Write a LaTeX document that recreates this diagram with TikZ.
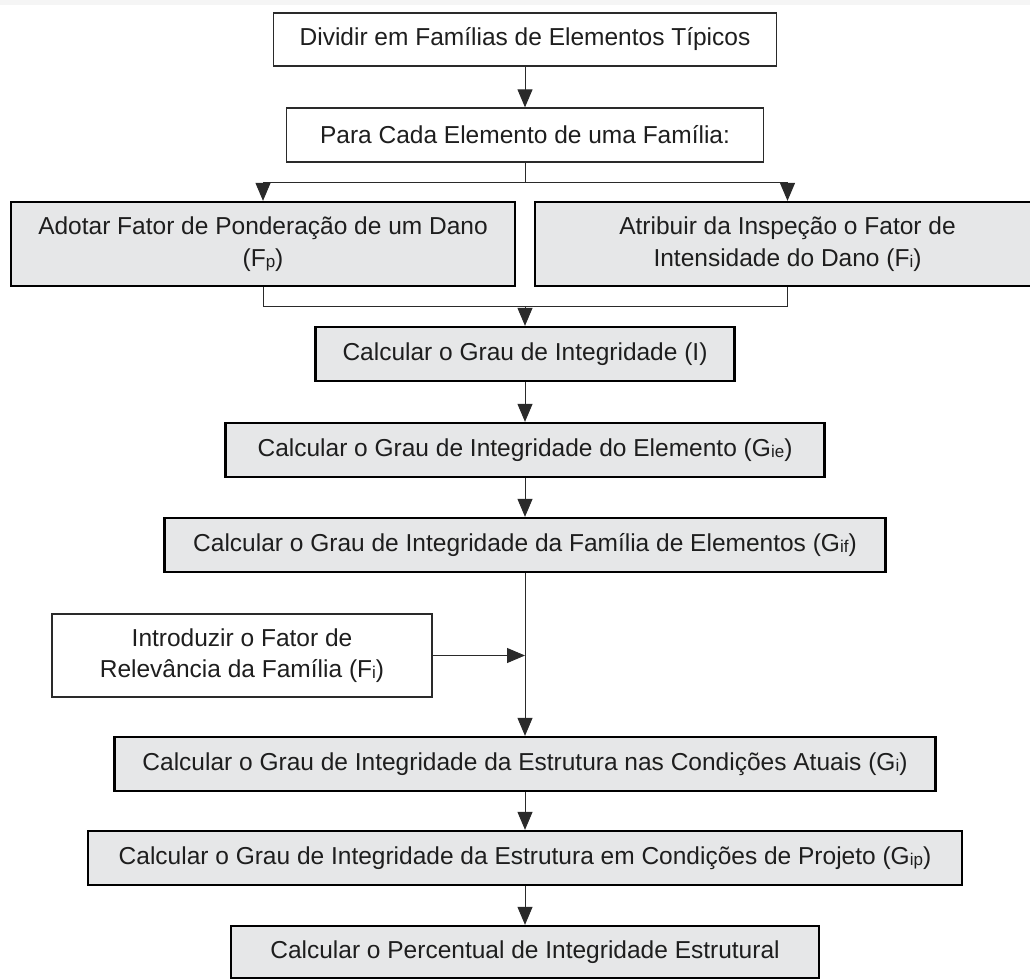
\documentclass[tikz,border=0pt]{standalone}
\usepackage{fontspec}
\setmainfont{Liberation Sans}
\usetikzlibrary{arrows.meta}
\definecolor{boxgray}{HTML}{E6E7E8}
\definecolor{inkc}{HTML}{1E1E1E}
\definecolor{linec}{HTML}{2A2A2A}
\newcommand{\sbs}[1]{\raisebox{-1pt}{\fontsize{17}{17}\selectfont #1}}
\tikzset{
  basebox/.style={rectangle, inner sep=0pt, align=center, text=inkc,
    font=\fontsize{24.5}{31.5}\selectfont},
  wbox/.style={basebox, draw=linec, line width=1.3pt, fill=white},
  gbox/.style={basebox, draw=black, line width=2.3pt, fill=boxgray},
  conn/.style={draw=linec, line width=1pt},
  arr/.style={conn, -{Triangle[length=18pt,width=15pt]}}
}
\begin{document}
\begin{tikzpicture}[x=1pt,y=-1pt]
\useasboundingbox (0,0) rectangle (1030,979);
\clip (0,0) rectangle (1030,979);
\fill[gray!8] (0,0) rectangle (1030,5);
% boxes
\node[wbox, minimum width=503pt, minimum height=53pt] (b1) at (525,39.5) {Dividir em Famílias de Elementos Típicos};
\node[wbox, minimum width=477pt, minimum height=54pt] (b2) at (525,135) {Para Cada Elemento de uma Família:};
\node[gbox, minimum width=504pt, minimum height=84pt] (b3a) at (263,244) {Adotar Fator de Ponderação de um Dano\\(F\sbs{p})};
\node[gbox, minimum width=505pt, minimum height=84pt] (b3b) at (787.5,244) {Atribuir da Inspeção o Fator de\\Intensidade do Dano (F\sbs{i})};
\node[gbox, minimum width=419pt, minimum height=54pt] (bI) at (525,354) {Calcular o Grau de Integridade (I)};
\node[gbox, minimum width=599pt, minimum height=54pt] (bGie) at (525,450) {Calcular o Grau de Integridade do Elemento (G\sbs{ie})};
\node[gbox, minimum width=721pt, minimum height=54pt] (bGif) at (525,545) {Calcular o Grau de Integridade da Família de Elementos (G\sbs{if})};
\node[wbox, minimum width=380pt, minimum height=83pt] (bIntro) at (242,655.5) {Introduzir o Fator de\\Relevância da Família (F\sbs{i})};
\node[gbox, minimum width=821pt, minimum height=54pt] (bGi) at (525,764) {Calcular o Grau de Integridade da Estrutura nas Condições Atuais (G\sbs{i})};
\node[gbox, minimum width=874pt, minimum height=54pt] (bGip) at (525,858) {Calcular o Grau de Integridade da Estrutura em Condições de Projeto (G\sbs{ip})};
\node[gbox, minimum width=588pt, minimum height=52pt] (bLast) at (525,952) {Calcular o Percentual de Integridade Estrutural};
% connectors
\coordinate (sp) at (525,182);
\coordinate (mg) at (525,306);
\draw[arr] (b1.south) -- (b2.north);
\draw[conn] (b2.south) -- (sp);
\draw[arr] (sp) -| (b3a.north);
\draw[arr] (sp) -| (b3b.north);
\draw[conn] (b3a.south) |- (mg);
\draw[conn] (b3b.south) |- (mg);
\draw[arr] (mg) -- (bI.north);
\draw[arr] (bI.south) -- (bGie.north);
\draw[arr] (bGie.south) -- (bGif.north);
\draw[arr] (bGif.south) -- (bGi.north);
\draw[arr] (bIntro.east) -- (bIntro.east -| bGif.south);
\draw[arr] (bGi.south) -- (bGip.north);
\draw[arr] (bGip.south) -- (bLast.north);
\end{tikzpicture}
\end{document}
